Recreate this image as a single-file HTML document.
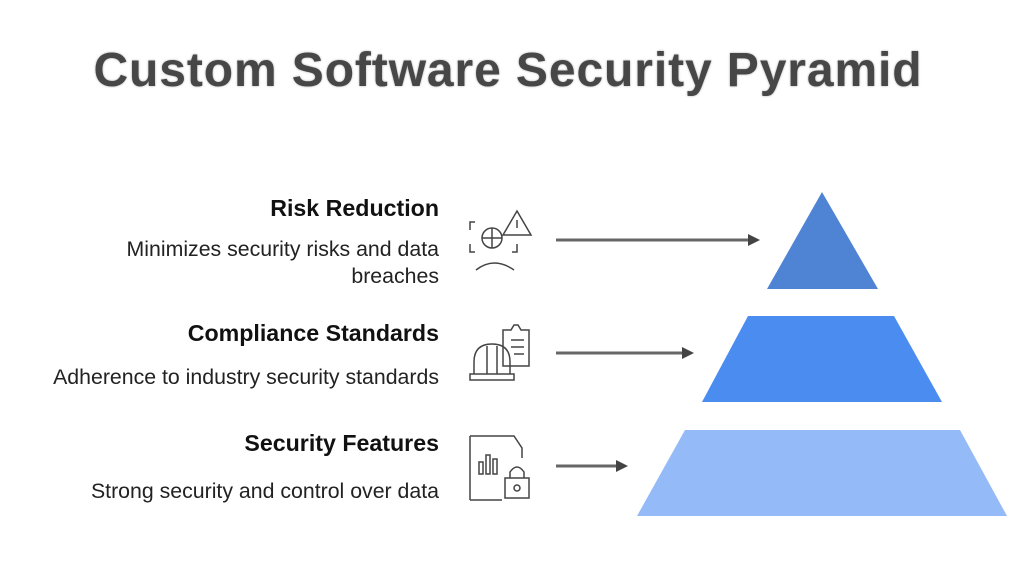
<!DOCTYPE html>
<html><head><style>
body{margin:0;width:1024px;height:576px;background:#fff;position:relative;overflow:hidden;font-family:"Liberation Sans",sans-serif}
h1{position:absolute;top:43px;left:0;width:1016px;text-align:center;margin:0;font-size:48px;font-weight:bold;color:#474747;letter-spacing:0.9px;text-shadow:0 0 2px #aaa}
.t{position:absolute;right:585px;text-align:right;color:#111;white-space:nowrap}
.h{font-weight:bold;font-size:23.2px}
.d{font-size:21.3px;line-height:27px;color:#222}
</style></head><body>
<h1>Custom Software Security Pyramid</h1>
<div class="t h" style="top:195px">Risk Reduction</div>
<div class="t d" style="top:236px">Minimizes security risks and data<br>breaches</div>
<div class="t h" style="top:320px">Compliance Standards</div>
<div class="t d" style="top:364px">Adherence to industry security standards</div>
<div class="t h" style="top:430px">Security Features</div>
<div class="t d" style="top:478px">Strong security and control over data</div>
<svg width="1024" height="576" style="position:absolute;left:0;top:0">
<polygon points="822,192 878,289 767,289" fill="#4f83d4"/>
<polygon points="748,316 894,316 942,402 702,402" fill="#4a8cf0"/>
<polygon points="685,430 960,430 1007,516 637,516" fill="#94bbf7"/>
<g stroke="#666" stroke-width="3"><line x1="556" y1="240" x2="750" y2="240"/><line x1="556" y1="353" x2="684" y2="353"/><line x1="556" y1="466" x2="618" y2="466"/></g>
<g fill="#444"><polygon points="748,234 760,240 748,246"/><polygon points="682,347 694,353 682,359"/><polygon points="616,460 628,466 616,472"/></g>
<g fill="none" stroke="#444" stroke-width="1.5">
<path d="M475 222h-5v8M470 244v8h5M512 252h5v-8"/>
<circle cx="492" cy="238" r="10"/><line x1="492" y1="228" x2="492" y2="248"/><line x1="482" y1="238" x2="502" y2="238"/>
<path d="M476 270q18-14 38 0"/>
<path d="M517 211l14 24h-28z"/><line x1="517" y1="220" x2="517" y2="228"/>
<path d="M503 330h8l3-5 h4l3 5h8v36h-26z"/>
<line x1="511" y1="340" x2="524" y2="340"/><line x1="511" y1="347" x2="524" y2="347"/><line x1="514" y1="354" x2="524" y2="354"/>
<path d="M474 374v-12q0-18 18-18q18 0 18 18v12"/><rect x="470" y="374" width="44" height="6"/><line x1="487" y1="346" x2="487" y2="374"/><line x1="497" y1="346" x2="497" y2="374"/>
<path d="M470 436h44l8 12v10M502 500h-32z M470 500v-64"/>
<rect x="479" y="462" width="4" height="12"/><rect x="486" y="455" width="4" height="19"/><rect x="493" y="459" width="4" height="15"/>
<rect x="505" y="478" width="24" height="20"/><path d="M510 478v-6q7-10 14 0v6"/><circle cx="517" cy="488" r="3"/>
</g>
</svg>
</body></html>
